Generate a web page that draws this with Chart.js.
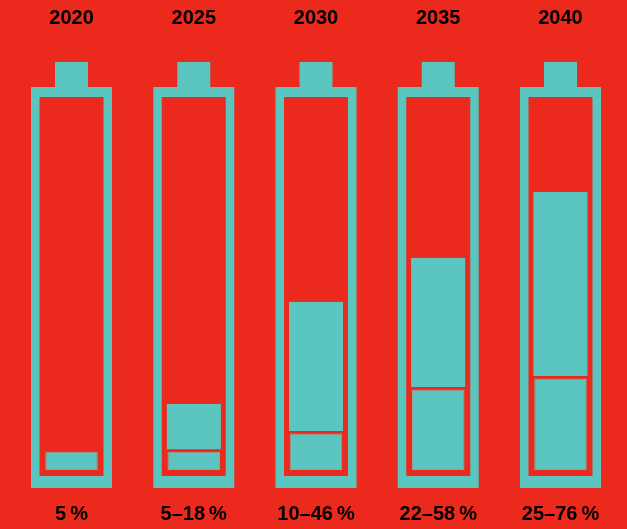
<!DOCTYPE html>
<html>
<head>
<meta charset="utf-8">
<script src="https://cdn.jsdelivr.net/npm/chart.js@4.4.1/dist/chart.umd.min.js"></script>
<style>
    html, body { margin: 0; padding: 0; background: #EC291D; }
    #wrap { width: 627px; height: 529px; }
</style>
</head>
<body>
<div id="wrap"><canvas id="batteryChart" width="627" height="529"></canvas></div>
<script>
const years = ['2020', '2025', '2030', '2035', '2040'];
const shareLow = [5, 5, 10, 22, 25];
const shareHigh = [5, 18, 46, 58, 76];
const rangeLabels = ['5\u2009%', '5\u201318\u2009%', '10\u201346\u2009%', '22\u201358\u2009%', '25\u201376\u2009%'];

const RED = '#EC291D';
const TEAL = '#5AC6BF';

// upper part of the range, stacked on top of the low value
const shareExtra = shareHigh.map((h, i) => (h - shareLow[i] > 0 ? h - shareLow[i] : null));

// battery shell behind each bar
const batteryFrame = {
    id: 'batteryFrame',
    beforeDatasetsDraw(chart) {
        const ctx = chart.ctx;
        const x = chart.scales.x;
        const y = chart.scales.y;
        const top = y.getPixelForValue(100);
        const bottom = y.getPixelForValue(0);
        ctx.save();
        years.forEach((yr, i) => {
            const cx = x.getPixelForValue(i);
            ctx.fillStyle = TEAL;
            ctx.fillRect(cx - 40.5, top - 17, 81, bottom - top + 35);
            ctx.fillRect(cx - 16.5, top - 42, 33, 26);
            ctx.fillStyle = RED;
            ctx.fillRect(cx - 32, top - 7, 64, bottom - top + 13);
        });
        ctx.restore();
    }
};

function fixAxis(height) {
    return function (scale) {
        scale.height = height;
        scale.paddingLeft = 0;
        scale.paddingRight = 0;
    };
}

const labelFont = { family: 'Liberation Sans', size: 20, weight: 'bold' };

const ctx = document.getElementById('batteryChart').getContext('2d');
new Chart(ctx, {
    type: 'bar',
    data: {
        labels: rangeLabels,
        datasets: [{
            label: 'low',
            data: shareLow,
            backgroundColor: TEAL,
            borderColor: '#8FA59C',
            borderWidth: 1,
            borderSkipped: false,
            barPercentage: 0.43,
            stack: 'range'
        }, {
            label: 'high',
            data: shareExtra,
            backgroundColor: TEAL,
            borderColor: RED,
            borderWidth: { top: 0, left: 0, right: 0, bottom: 2.5 },
            borderSkipped: false,
            barPercentage: 0.445,
            stack: 'range'
        }]
    },
    options: {
        responsive: false,
        animation: false,
        categoryPercentage: 1,
        layout: {
            padding: { top: 6, bottom: 3, left: 10.4, right: 5.4 }
        },
        plugins: {
            legend: { display: false },
            tooltip: { enabled: false }
        },
        scales: {
            x: {
                position: 'bottom',
                stacked: true,
                offset: true,
                grid: { display: false, drawTicks: false },
                border: { display: false },
                ticks: { color: '#000', padding: 32, font: labelFont },
                afterFit: fixAxis(56)
            },
            xTop: {
                type: 'category',
                position: 'top',
                labels: years,
                offset: true,
                grid: { display: false, drawTicks: false, offset: true },
                border: { display: false },
                ticks: { color: '#000', padding: 74, font: labelFont },
                afterFit: fixAxis(98)
            },
            y: {
                display: false,
                stacked: true,
                min: 0,
                max: 100
            }
        }
    },
    plugins: [batteryFrame]
});
</script>
</body>
</html>
